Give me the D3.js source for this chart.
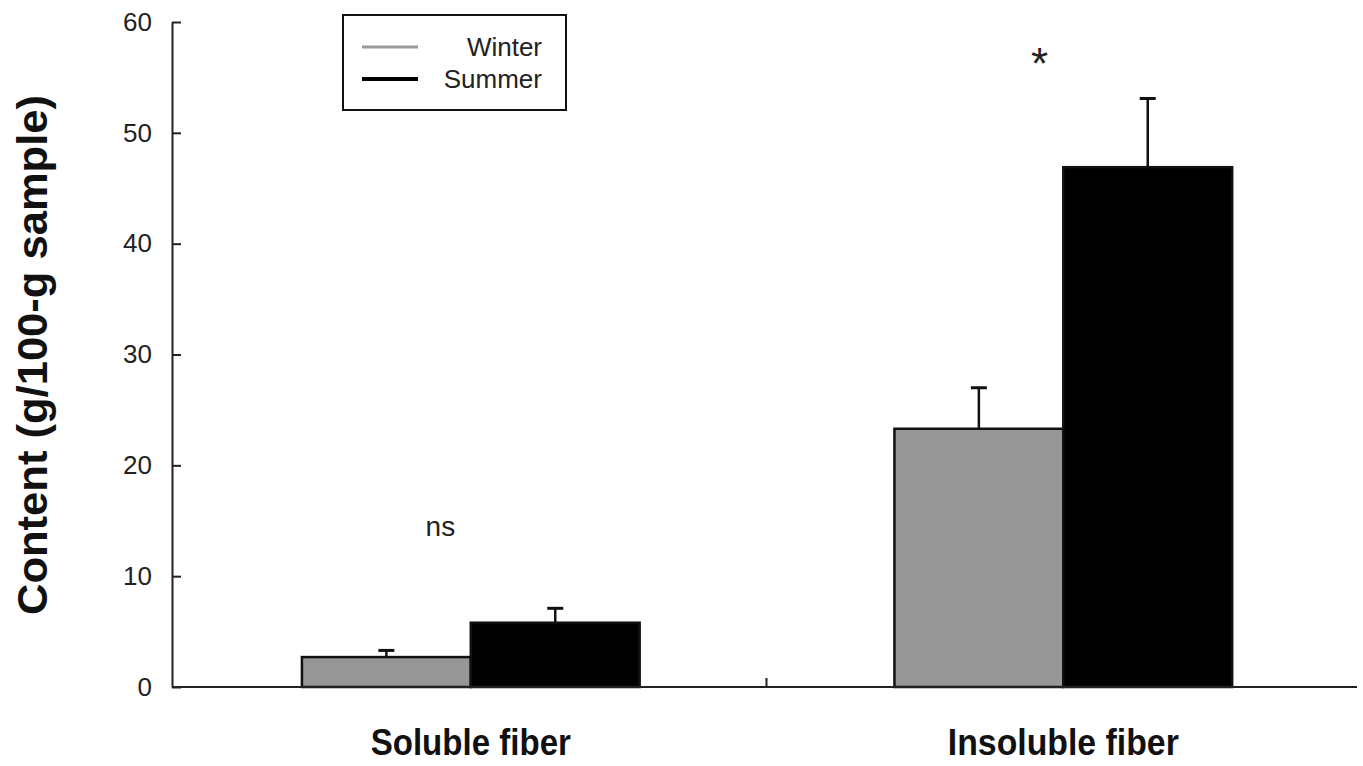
<!DOCTYPE html>
<html>
<head>
<meta charset="utf-8">
<script src="https://cdn.jsdelivr.net/npm/d3@7"></script>
<style>
  body { margin: 0; background: #fff; }
  svg { font-family: "Liberation Sans", Arial, sans-serif; }
  .yaxis path, .yaxis line { stroke: #222; stroke-width: 2px; }
  .yaxis text { font-size: 26px; fill: #222; }
</style>
</head>
<body>
<div id="chart"></div>
<script>
// data
var categories = ["Soluble fiber", "Insoluble fiber"];
var seasons    = ["Winter", "Summer"];
var winterMean = [2.7, 23.3];
var winterErr  = [0.6, 3.7];
var summerMean = [5.8, 46.9];
var summerErr  = [1.3, 6.2];
var yTicks     = [0, 10, 20, 30, 40, 50, 60];
var marks      = ["ns", "*"];

var colors = { Winter: "#979797", Summer: "#000" };

var width  = 1363,
    height = 766,
    margin = { top: 22, right: 6, bottom: 79, left: 172 };

var w = width - margin.left - margin.right,
    h = height - margin.top - margin.bottom;

var rows = [];
categories.forEach(function(c, i) {
  rows.push({ cat: c, season: "Winter", value: winterMean[i], err: winterErr[i] });
  rows.push({ cat: c, season: "Summer", value: summerMean[i], err: summerErr[i] });
});

var svg = d3.select("#chart").append("svg")
  .attr("width", width)
  .attr("height", height);

var plot = svg.append("g")
  .attr("transform", "translate(" + margin.left + "," + margin.top + ")");

// scales
var x0 = d3.scaleBand()
  .domain(categories)
  .range([0, w])
  .paddingInner(0.43)
  .paddingOuter(0.215)
  .align(0.51);

var x1 = d3.scaleBand()
  .domain(seasons)
  .range([0, x0.bandwidth()]);

var y = d3.scaleLinear()
  .domain([0, 60])
  .range([h, 0]);

// bars
var bars = plot.selectAll(".bar")
  .data(rows)
  .enter().append("g")
  .attr("class", "bar")
  .attr("transform", d => "translate(" + (x0(d.cat) + x1(d.season)) + ",0)");

// error bars (upper only), under the bar outline
bars.append("line")
  .attr("x1", x1.bandwidth() / 2)
  .attr("x2", x1.bandwidth() / 2)
  .attr("y1", d => y(d.value))
  .attr("y2", d => y(d.value + d.err))
  .attr("stroke", "#111")
  .attr("stroke-width", 2.5);

bars.append("line")
  .attr("x1", x1.bandwidth() / 2 - 8)
  .attr("x2", x1.bandwidth() / 2 + 8)
  .attr("y1", d => y(d.value + d.err))
  .attr("y2", d => y(d.value + d.err))
  .attr("stroke", "#111")
  .attr("stroke-width", 3);

bars.append("rect")
  .attr("y", d => y(d.value))
  .attr("width", x1.bandwidth())
  .attr("height", d => h - y(d.value))
  .attr("fill", d => colors[d.season])
  .attr("stroke", "#111")
  .attr("stroke-width", 2.5);

// axes
var yAxis = d3.axisLeft(y)
  .tickValues(yTicks)
  .tickSizeInner(-9)
  .tickSizeOuter(0)
  .tickPadding(20);

plot.append("g")
  .attr("class", "yaxis")
  .call(yAxis);

plot.append("line")
  .attr("x1", 0)
  .attr("x2", w)
  .attr("y1", h)
  .attr("y2", h)
  .attr("stroke", "#222")
  .attr("stroke-width", 2);

// tick between the two groups
var mid = x0.step() + 2;
plot.append("line")
  .attr("x1", mid)
  .attr("x2", mid)
  .attr("y1", h)
  .attr("y2", h - 9)
  .attr("stroke", "#222")
  .attr("stroke-width", 2);

// category labels
plot.selectAll(".catLabel")
  .data(categories)
  .enter().append("text")
  .attr("class", "catLabel")
  .attr("x", d => x0(d) + x0.bandwidth() / 2)
  .attr("y", h + 68)
  .attr("text-anchor", "middle")
  .attr("font-size", 36)
  .attr("font-weight", "bold")
  .attr("fill", "#111")
  .attr("textLength", d => d.length * 15.4)
  .attr("lengthAdjust", "spacingAndGlyphs")
  .text(d => d);

// y label
svg.append("text")
  .attr("transform", "translate(47,355) rotate(-90)")
  .attr("text-anchor", "middle")
  .attr("font-size", 43)
  .attr("font-weight", "bold")
  .attr("fill", "#111")
  .attr("textLength", 520)
  .attr("lengthAdjust", "spacingAndGlyphs")
  .text("Content (g/100-g sample)");

// significance marks above each group
plot.selectAll(".sig")
  .data(marks)
  .enter().append("text")
  .attr("class", "sig")
  .attr("x", (d, i) => i === 0 ? x0(categories[i]) + x0.bandwidth() * 0.41 : x0(categories[i]) + x0.bandwidth() * 0.43)
  .attr("y", (d, i) => i === 0 ? y(13.6) : y(54.9))
  .attr("text-anchor", "middle")
  .attr("font-size", d => d === "*" ? 44 : 28)
  .attr("fill", "#222")
  .text(d => d);

// legend
var legend = svg.append("g")
  .attr("transform", "translate(343,15)");

legend.append("rect")
  .attr("width", 223)
  .attr("height", 95)
  .attr("fill", "#fff")
  .attr("stroke", "#111")
  .attr("stroke-width", 2);

var item = legend.selectAll(".item")
  .data(seasons)
  .enter().append("g")
  .attr("class", "item")
  .attr("transform", (d, i) => "translate(0," + (32 + i * 32) + ")");

item.append("line")
  .attr("x1", 19)
  .attr("x2", 75)
  .attr("stroke", d => d === "Winter" ? "#999" : "#000")
  .attr("stroke-width", d => d === "Winter" ? 3 : 4);

item.append("text")
  .attr("x", 199)
  .attr("y", 9)
  .attr("text-anchor", "end")
  .attr("font-size", 26)
  .attr("fill", "#222")
  .text(d => d);
</script>
</body>
</html>
